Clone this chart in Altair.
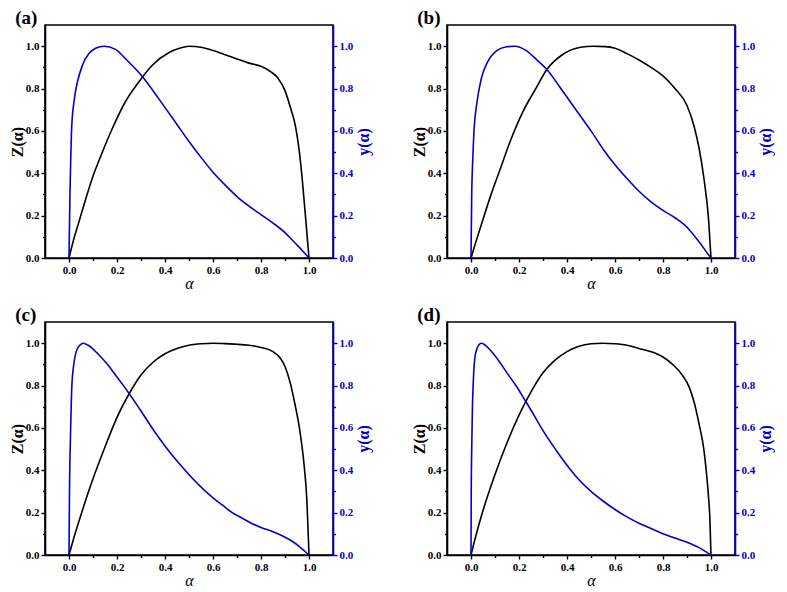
import altair as alt
import pandas as pd

# ---------------- data ----------------
# Panel (a)
za_x = [0, 0.02, 0.042, 0.07, 0.097, 0.139, 0.18, 0.236, 0.29, 0.347, 0.417, 0.46, 0.5, 0.55,
        0.6, 0.65, 0.7, 0.75, 0.8, 0.84, 0.87, 0.9, 0.92, 0.944, 0.96, 0.972, 0.985, 1.0]
za_v = [0, 0.09, 0.173, 0.28, 0.377, 0.5, 0.61, 0.74, 0.83, 0.91, 0.97, 0.99, 1.0, 0.995,
        0.98, 0.96, 0.94, 0.92, 0.905, 0.88, 0.85, 0.79, 0.72, 0.62, 0.5, 0.37, 0.2, 0]
ya_x = [0, 0.004, 0.007, 0.011, 0.021, 0.035, 0.056, 0.083, 0.111, 0.146, 0.194, 0.236, 0.303,
        0.375, 0.444, 0.5, 0.54, 0.6, 0.65, 0.7, 0.75, 0.8, 0.85, 0.9, 0.93, 0.96, 0.98, 1.0]
ya_v = [0, 0.3, 0.455, 0.61, 0.74, 0.83, 0.91, 0.965, 0.99, 1.0, 0.985, 0.94, 0.86,
        0.75, 0.64, 0.55, 0.49, 0.405, 0.345, 0.29, 0.245, 0.205, 0.165, 0.12, 0.085, 0.05,
        0.025, 0]

# Panel (b)
zb_x = [0, 0.02, 0.043, 0.083, 0.123, 0.163, 0.216, 0.27, 0.316, 0.376, 0.456, 0.51, 0.56,
        0.6, 0.65, 0.7, 0.75, 0.8, 0.85, 0.9, 0.93, 0.95, 0.97, 0.99, 1.0]
zb_v = [0, 0.075, 0.157, 0.298, 0.424, 0.55, 0.69, 0.8, 0.89, 0.956, 0.995, 1.0, 0.998,
        0.99, 0.965, 0.935, 0.90, 0.86, 0.80, 0.72, 0.62, 0.52, 0.38, 0.18, 0]
yb_x = [0, 0.003, 0.007, 0.013, 0.023, 0.043, 0.069, 0.109, 0.149, 0.183, 0.229, 0.27, 0.316,
        0.39, 0.456, 0.5, 0.55, 0.6, 0.65, 0.7, 0.75, 0.8, 0.85, 0.9, 0.93, 0.96, 0.98, 1.0]
yb_v = [0, 0.3, 0.455, 0.61, 0.72, 0.847, 0.925, 0.98, 0.997, 1.0, 0.98, 0.94, 0.89,
        0.775, 0.67, 0.6, 0.515, 0.44, 0.375, 0.315, 0.265, 0.225, 0.19, 0.145, 0.105, 0.062,
        0.03, 0]

# Panel (c)
zc_x = [0, 0.02, 0.05, 0.1, 0.15, 0.2, 0.25, 0.3, 0.35, 0.4, 0.45, 0.5, 0.55, 0.6, 0.65, 0.7,
        0.75, 0.8, 0.85, 0.88, 0.9, 0.92, 0.94, 0.96, 0.98, 0.99, 1.0]
zc_v = [0, 0.08, 0.19, 0.36, 0.51, 0.65, 0.76, 0.85, 0.91, 0.95, 0.975, 0.99, 0.997, 1.0, 0.998,
        0.995, 0.99, 0.98, 0.96, 0.93, 0.89, 0.82, 0.72, 0.6, 0.42, 0.28, 0]
yc_x = [0, 0.002, 0.005, 0.008, 0.012, 0.02, 0.03, 0.045, 0.06, 0.08, 0.12, 0.16, 0.2, 0.23,
        0.27, 0.3, 0.34, 0.38, 0.42, 0.48, 0.52, 0.56, 0.6, 0.64, 0.68, 0.72, 0.76, 0.8, 0.85,
        0.89, 0.93, 0.96, 0.98, 1.0]
yc_v = [0, 0.3, 0.5, 0.65, 0.8, 0.9, 0.96, 0.99, 1.0, 0.99, 0.95, 0.9, 0.84, 0.795,
        0.73, 0.68, 0.61, 0.545, 0.485, 0.405, 0.355, 0.31, 0.27, 0.235, 0.2, 0.175, 0.15, 0.13,
        0.11, 0.09, 0.065, 0.04, 0.02, 0]

# Panel (d)
zd_x = [0, 0.02, 0.05, 0.1, 0.15, 0.2, 0.25, 0.3, 0.35, 0.4, 0.45, 0.5, 0.55, 0.6, 0.65, 0.7,
        0.75, 0.8, 0.84, 0.88, 0.91, 0.93, 0.95, 0.97, 0.98, 0.99, 0.995, 1.0]
zd_v = [0, 0.09, 0.21, 0.38, 0.53, 0.66, 0.77, 0.86, 0.92, 0.96, 0.985, 0.997, 1.0, 0.997, 0.99,
        0.975, 0.96, 0.935, 0.9, 0.85, 0.79, 0.72, 0.62, 0.5, 0.4, 0.27, 0.18, 0]
yd_x = [0, 0.001, 0.003, 0.006, 0.01, 0.016, 0.025, 0.035, 0.044, 0.06, 0.09, 0.12, 0.15, 0.187,
        0.22, 0.26, 0.293, 0.33, 0.37, 0.413, 0.45, 0.5, 0.55, 0.6, 0.65, 0.7, 0.75, 0.8, 0.85,
        0.9, 0.95, 1.0]
yd_v = [0, 0.3, 0.5, 0.7, 0.83, 0.93, 0.975, 0.995, 1.0, 0.99, 0.955, 0.91, 0.86, 0.8,
        0.74, 0.665, 0.6, 0.535, 0.47, 0.405, 0.355, 0.3, 0.255, 0.215, 0.18, 0.15, 0.125, 0.1,
        0.08, 0.06, 0.035, 0]

panel_labels = ["(a)", "(b)", "(c)", "(d)"]
x_ticks = [0.0, 0.2, 0.4, 0.6, 0.8, 1.0]
x_minor = [0.1, 0.3, 0.5, 0.7, 0.9]
y_ticks = [0.0, 0.2, 0.4, 0.6, 0.8, 1.0]
y_minor = [0.1, 0.3, 0.5, 0.7, 0.9]

BLUE = "#0000CC"
FONT = "Liberation Serif"
W, H = 288, 233

XS = alt.Scale(domain=[-0.1, 1.1], nice=False, zero=False)
YS = alt.Scale(domain=[0, 1.1], nice=False)


def panel(label, zx, zv, yx, yv):
    dz = pd.DataFrame({"alpha": zx, "Z": zv})
    dy = pd.DataFrame({"alpha": yx, "Y": yv})
    zline = alt.Chart(dz).mark_line(color="black", strokeWidth=1.6, interpolate="monotone").encode(
        x=alt.X("alpha:Q", scale=XS,
                axis=alt.Axis(title="α", values=x_ticks, format=".1f", orient="bottom",
                              titleFontStyle="italic", titleFontWeight="normal",
                              titleFontSize=16, titlePadding=0)),
        y=alt.Y("Z:Q", scale=YS,
                axis=alt.Axis(title="Z(α)", values=y_ticks, format=".1f", orient="left",
                              titlePadding=0)),
    )
    zminor = alt.Chart(dz).mark_line(opacity=0).encode(
        x=alt.X("alpha:Q", scale=XS,
                axis=alt.Axis(title=None, values=x_minor, labels=False, domain=False,
                              orient="bottom", tickSize=2.5)),
        y=alt.Y("Z:Q", scale=YS,
                axis=alt.Axis(title=None, values=y_minor, labels=False, domain=False,
                              orient="left", tickSize=2.5)),
    )
    yline = alt.Chart(dy).mark_line(color=BLUE, strokeWidth=1.6, interpolate="monotone").encode(
        x=alt.X("alpha:Q", scale=XS, axis=None),
        y=alt.Y("Y:Q", scale=YS,
                axis=alt.Axis(title="y(α)", values=y_ticks, format=".1f", orient="right",
                              domainColor=BLUE, tickColor=BLUE, labelColor=BLUE,
                              titleColor=BLUE, titlePadding=3, titleAngle=270,
                              titleBaseline="top")),
    )
    yminor = alt.Chart(dy).mark_line(opacity=0).encode(
        x=alt.X("alpha:Q", scale=XS, axis=None),
        y=alt.Y("Y:Q", scale=YS,
                axis=alt.Axis(title=None, values=y_minor, labels=False, domain=False,
                              orient="right", tickSize=2.5, tickColor=BLUE)),
    )
    return alt.layer(zline, zminor, yline, yminor).resolve_scale(
        y="independent"
    ).resolve_axis(
        x="independent", y="independent"
    ).properties(
        width=W, height=H,
        title=alt.TitleParams(label, anchor="start", frame="bounds", fontSize=19,
                              font=FONT, fontWeight="bold", offset=-3, dx=6),
    )


pa = panel(panel_labels[0], za_x, za_v, ya_x, ya_v)
pb = panel(panel_labels[1], zb_x, zb_v, yb_x, yb_v)
pc = panel(panel_labels[2], zc_x, zc_v, yc_x, yc_v)
pd_ = panel(panel_labels[3], zd_x, zd_v, yd_x, yd_v)

chart = alt.vconcat(
    alt.hconcat(pa, pb, spacing=37),
    alt.hconcat(pc, pd_, spacing=37),
    spacing=13,
).properties(
    background="white", padding=0
).configure_view(
    stroke="black", strokeWidth=1.6
).configure_axis(
    labelFont=FONT, titleFont=FONT, labelFontWeight="bold", titleFontWeight="bold",
    labelFontSize=11, titleFontSize=16, grid=False, tickSize=4, labelPadding=2,
    domainColor="black", tickColor="black", labelColor="black", titleColor="black",
    domainWidth=1.6, tickWidth=1.4,
)

chart.save("out.html", embed_options={"renderer": "svg", "actions": False})
